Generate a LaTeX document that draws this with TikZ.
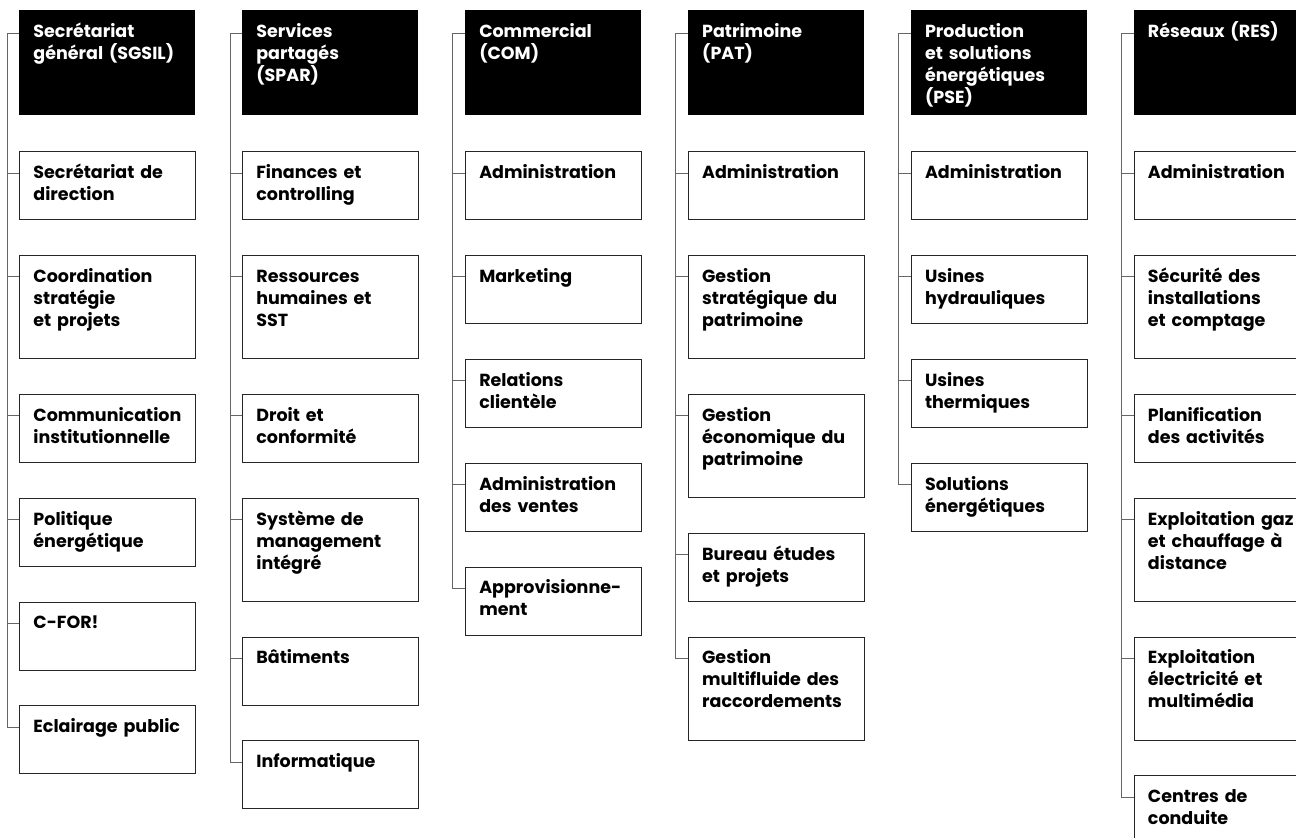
\documentclass[tikz,border=0pt]{standalone}
\usepackage{fontspec}
\setmainfont{Poppins}
\usetikzlibrary{positioning}

\begin{document}
\begin{tikzpicture}[
        font=\fontsize{17.5}{22}\selectfont\bfseries,
        node distance=35pt,
        unit/.style={rectangle, draw=black!85, line width=0.9pt, text width=148pt, align=left, inner xsep=14pt, inner ysep=15.5pt, text height=11.5pt, text depth=25.5pt},
        tall/.style={unit, text depth=60.5pt},
        head/.style={unit, draw=none, fill=black, text=white, text depth=62.5pt},
        link/.style={draw=black!60, line width=0.8pt}
    ]
    \useasboundingbox (0,0) rectangle (1296pt,-838pt);
    \node[head, anchor=north west] (sgsil) at (19pt,-10pt) {Secrétariat\\général~(SGSIL)};
    \node[head, right=46pt of sgsil] (spar) {Services\\partagés\\(SPAR)};
    \node[head, right=46pt of spar] (com) {Commercial\\(COM)};
    \node[head, right=46pt of com] (pat) {Patrimoine\\(PAT)};
    \node[head, right=46pt of pat] (pse) {Production\\et~solutions\\énergétiques\\(PSE)};
    \node[head, right=46pt of pse] (res) {Réseaux~(RES)};

    \node[unit, below=of sgsil] (direction) {Secrétariat~de\\direction};
    \node[tall, below=of direction] (coordination) {Coordination\\stratégie\\et~projets};
    \node[unit, below=of coordination] (communication) {Communication\\institutionnelle};
    \node[unit, below=of communication] (politique) {Politique\\énergétique};
    \node[unit, below=of politique] (cfor) {C-FOR!};
    \node[unit, below=of cfor] (eclairage) {Eclairage~public};

    \node[unit, below=of spar] (finances) {Finances~et\\controlling};
    \node[tall, below=of finances] (rh) {Ressources\\humaines~et\\SST};
    \node[unit, below=of rh] (droit) {Droit~et\\conformité};
    \node[tall, below=of droit] (management) {Système~de\\management\\intégré};
    \node[unit, below=of management] (batiments) {Bâtiments};
    \node[unit, below=of batiments] (informatique) {Informatique};

    \node[unit, below=of com] (comadmin) {Administration};
    \node[unit, below=of comadmin] (marketing) {Marketing};
    \node[unit, below=of marketing] (relations) {Relations\\clientèle};
    \node[unit, below=of relations] (ventes) {Administration\\des~ventes};
    \node[unit, below=of ventes] (appro) {Approvisionne-\\ment};

    \node[unit, below=of pat] (patadmin) {Administration};
    \node[tall, below=of patadmin] (strategique) {Gestion\\stratégique~du\\patrimoine};
    \node[tall, below=of strategique] (economique) {Gestion\\économique~du\\patrimoine};
    \node[unit, below=of economique] (bureau) {Bureau~études\\et~projets};
    \node[tall, below=of bureau] (multifluide) {Gestion\\multifluide~des\\raccordements};

    \node[unit, below=of pse] (pseadmin) {Administration};
    \node[unit, below=of pseadmin] (hydrauliques) {Usines\\hydrauliques};
    \node[unit, below=of hydrauliques] (thermiques) {Usines\\thermiques};
    \node[unit, below=of thermiques] (solutions) {Solutions\\énergétiques};

    \node[unit, below=of res] (resadmin) {Administration};
    \node[tall, below=of resadmin] (securite) {Sécurité~des\\installations\\et~comptage};
    \node[unit, below=of securite] (planification) {Planification\\des~activités};
    \node[tall, below=of planification] (gaz) {Exploitation~gaz\\et~chauffage~à\\distance};
    \node[tall, below=of gaz] (electricite) {Exploitation\\électricité~et\\multimédia};
    \node[unit, below=of electricite] (conduite) {Centres~de\\conduite};

    \draw[link] ([yshift=-23pt]sgsil.north west) -- ++(-12pt,0) |- ([yshift=-22pt]eclairage.north west);
    \foreach \n in {direction,coordination,communication,politique,cfor}
        \draw[link] ([yshift=-22pt]\n.north west) -- ++(-12pt,0);
    \draw[link] ([yshift=-23pt]spar.north west) -- ++(-12pt,0) |- ([yshift=-22pt]informatique.north west);
    \foreach \n in {finances,rh,droit,management,batiments}
        \draw[link] ([yshift=-22pt]\n.north west) -- ++(-12pt,0);
    \draw[link] ([yshift=-23pt]com.north west) -- ++(-12pt,0) |- ([yshift=-22pt]appro.north west);
    \foreach \n in {comadmin,marketing,relations,ventes}
        \draw[link] ([yshift=-22pt]\n.north west) -- ++(-12pt,0);
    \draw[link] ([yshift=-23pt]pat.north west) -- ++(-12pt,0) |- ([yshift=-22pt]multifluide.north west);
    \foreach \n in {patadmin,strategique,economique,bureau}
        \draw[link] ([yshift=-22pt]\n.north west) -- ++(-12pt,0);
    \draw[link] ([yshift=-23pt]pse.north west) -- ++(-12pt,0) |- ([yshift=-22pt]solutions.north west);
    \foreach \n in {pseadmin,hydrauliques,thermiques}
        \draw[link] ([yshift=-22pt]\n.north west) -- ++(-12pt,0);
    \draw[link] ([yshift=-23pt]res.north west) -- ++(-12pt,0) |- ([yshift=-22pt]conduite.north west);
    \foreach \n in {resadmin,securite,planification,gaz,electricite}
        \draw[link] ([yshift=-22pt]\n.north west) -- ++(-12pt,0);
\end{tikzpicture}
\end{document}
